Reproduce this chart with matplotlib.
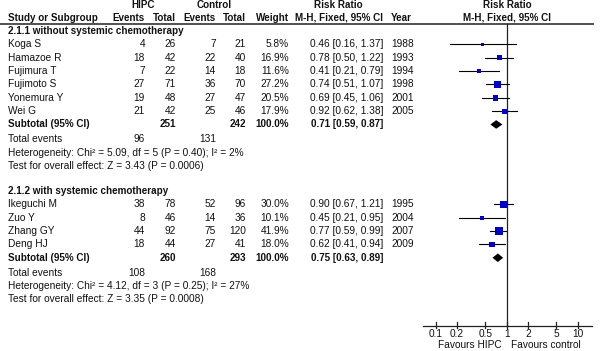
import matplotlib
matplotlib.use("Agg")
import matplotlib.pyplot as plt
import numpy as np

plt.rcParams['font.family'] = ['Liberation Sans', 'DejaVu Sans']

# ---------------- data ----------------
studies1 = ['Koga S', 'Hamazoe R', 'Fujimura T', 'Fujimoto S', 'Yonemura Y', 'Wei G']
hipc_ev1 = [4, 18, 7, 27, 19, 21]
hipc_tot1 = [26, 42, 22, 71, 48, 42]
ctrl_ev1 = [7, 22, 14, 36, 27, 25]
ctrl_tot1 = [21, 40, 18, 70, 47, 46]
weight1 = [5.8, 16.9, 11.6, 27.2, 20.5, 17.9]
rr1 = [0.46, 0.78, 0.41, 0.74, 0.69, 0.92]
lo1 = [0.16, 0.50, 0.21, 0.51, 0.45, 0.62]
hi1 = [1.37, 1.22, 0.79, 1.07, 1.06, 1.38]
year1 = [1988, 1993, 1994, 1998, 2001, 2005]
sub1 = dict(tot_h=251, tot_c=242, rr=0.71, lo=0.59, hi=0.87, ev_h=96, ev_c=131,
            het="Heterogeneity: Chi\u00b2 = 5.09, df = 5 (P = 0.40); I\u00b2 = 2%",
            test="Test for overall effect: Z = 3.43 (P = 0.0006)")

studies2 = ['Ikeguchi M', 'Zuo Y', 'Zhang GY', 'Deng HJ']
hipc_ev2 = [38, 8, 44, 18]
hipc_tot2 = [78, 46, 92, 44]
ctrl_ev2 = [52, 14, 75, 27]
ctrl_tot2 = [96, 36, 120, 41]
weight2 = [30.0, 10.1, 41.9, 18.0]
rr2 = [0.90, 0.45, 0.77, 0.62]
lo2 = [0.67, 0.21, 0.59, 0.41]
hi2 = [1.21, 0.95, 0.99, 0.94]
year2 = [1995, 2004, 2007, 2009]
sub2 = dict(tot_h=260, tot_c=293, rr=0.75, lo=0.63, hi=0.89, ev_h=108, ev_c=168,
            het="Heterogeneity: Chi\u00b2 = 4.12, df = 3 (P = 0.25); I\u00b2 = 27%",
            test="Test for overall effect: Z = 3.35 (P = 0.0008)")

groups = [("2.1.1 without systemic chemotherapy", studies1, hipc_ev1, hipc_tot1, ctrl_ev1,
           ctrl_tot1, weight1, rr1, lo1, hi1, year1, sub1),
          ("2.1.2 with systemic chemotherapy", studies2, hipc_ev2, hipc_tot2, ctrl_ev2,
           ctrl_tot2, weight2, rr2, lo2, hi2, year2, sub2)]

ticks = [0.1, 0.2, 0.5, 1, 2, 5, 10]
tick_labels = ['0.1', '0.2', '0.5', '1', '2', '5', '10']

# ---------------- layout ----------------
W, H = 600, 351
fig = plt.figure(figsize=(6.0, 3.51), dpi=100)
ax = fig.add_axes([0, 0, 1, 1])
ax.set_xlim(0, W)
ax.set_ylim(H, 0)
ax.axis('off')

fx0, fx1 = 423, 592
fax = fig.add_axes([fx0 / W, 0, (fx1 - fx0) / W, 1])
fax.set_xscale('log')
fax.set_xlim(10 ** -1.179, 10 ** 1.201)
fax.set_ylim(H, 0)
fax.axis('off')
fax.patch.set_visible(False)

FS = 7.3
FSB = 7.1
TC = '#111111'
BLUE = '#0000c8'

def row_y(r):
    return 4.5 + 13.33 * r

def txt(x, y, s, ha='left', bold=False):
    ax.text(x, y, s, ha=ha, va='center', fontsize=FSB if bold else FS, color=TC,
            fontweight='bold' if bold else 'normal')

# Column anchors (right edges)
X_NAME = 8
X_HE, X_HT, X_CE, X_CT, X_W, X_RR, X_YR = 145, 176, 216, 246, 289, 383, 391

# headers
y0, y1 = row_y(0), row_y(1)
txt(143, y0, 'HIPC', ha='center', bold=True)
txt(214, y0, 'Control', ha='center', bold=True)
txt(338, y0, 'Risk Ratio', ha='center', bold=True)
txt(507, y0, 'Risk Ratio', ha='center', bold=True)
txt(X_NAME, y1, 'Study or Subgroup', bold=True)
txt(X_HE, y1, 'Events', ha='right', bold=True)
txt(X_HT, y1, 'Total', ha='right', bold=True)
txt(X_CE, y1, 'Events', ha='right', bold=True)
txt(X_CT, y1, 'Total', ha='right', bold=True)
txt(X_W, y1, 'Weight', ha='right', bold=True)
txt(X_RR, y1, 'M-H, Fixed, 95% CI', ha='right', bold=True)
txt(X_YR, y1, 'Year', bold=True)
txt(507, y1, 'M-H, Fixed, 95% CI', ha='center', bold=True)
ax.plot([0, 594], [23.8, 23.8], color='#333333', lw=1.2, solid_capstyle='butt')

r = 2
for (title, names, he, ht, ce, ct, wt, rr, lo, hi, yr, sub) in groups:
    txt(X_NAME, row_y(r), title, bold=True)
    r += 1
    for i in range(len(names)):
        y = row_y(r)
        txt(X_NAME, y, names[i])
        txt(X_HE, y, str(he[i]), ha='right')
        txt(X_HT, y, str(ht[i]), ha='right')
        txt(X_CE, y, str(ce[i]), ha='right')
        txt(X_CT, y, str(ct[i]), ha='right')
        txt(X_W, y, f"{wt[i]:.1f}%", ha='right')
        txt(X_RR, y, f"{rr[i]:.2f} [{lo[i]:.2f}, {hi[i]:.2f}]", ha='right')
        txt(X_YR, y, str(yr[i]))
        fax.plot([lo[i], hi[i]], [y, y], color='black', lw=0.8, zorder=2)
        side = 1.2 * np.sqrt(wt[i])
        fax.scatter([rr[i]], [y], marker='s', s=(side * 0.72) ** 2, color=BLUE,
                    edgecolors='none', zorder=3)
        r += 1
    y = row_y(r)
    txt(X_NAME, y, 'Subtotal (95% CI)', bold=True)
    txt(X_HT, y, str(sub['tot_h']), ha='right', bold=True)
    txt(X_CT, y, str(sub['tot_c']), ha='right', bold=True)
    txt(X_W, y, '100.0%', ha='right', bold=True)
    txt(X_RR, y, f"{sub['rr']:.2f} [{sub['lo']:.2f}, {sub['hi']:.2f}]", ha='right', bold=True)
    fax.fill([sub['lo'], sub['rr'], sub['hi'], sub['rr']], [y, y - 4.3, y, y + 4.3],
             color='black', zorder=3, lw=0)
    r += 1
    y = row_y(r) + 1.5
    txt(X_NAME, y, 'Total events')
    txt(X_HE, y, str(sub['ev_h']), ha='right')
    txt(X_CE, y, str(sub['ev_c']), ha='right')
    r += 1
    txt(X_NAME, row_y(r) + 1.5, sub['het'])
    r += 1
    txt(X_NAME, row_y(r) + 1.5, sub['test'])
    r += 2

# forest axis
AXY = 326
fax.plot([1, 1], [23.8, AXY], color='#222222', lw=0.9, zorder=1)
fax.plot(fax.get_xlim(), [AXY, AXY], color='#222222', lw=0.9, clip_on=False)
for t, lab in zip(ticks, tick_labels):
    fax.plot([t, t], [AXY - 4, AXY + 2], color='#222222', lw=0.9)
    fax.text(t, 334, lab, ha='center', va='center', fontsize=FS, color=TC)
fax.text(0.86, 345.5, 'Favours HIPC', ha='right', va='center', fontsize=FS, color=TC)
fax.text(1.15, 345.5, 'Favours control', ha='left', va='center', fontsize=FS, color=TC)

fig.savefig('out.png', dpi=100, facecolor='white')
